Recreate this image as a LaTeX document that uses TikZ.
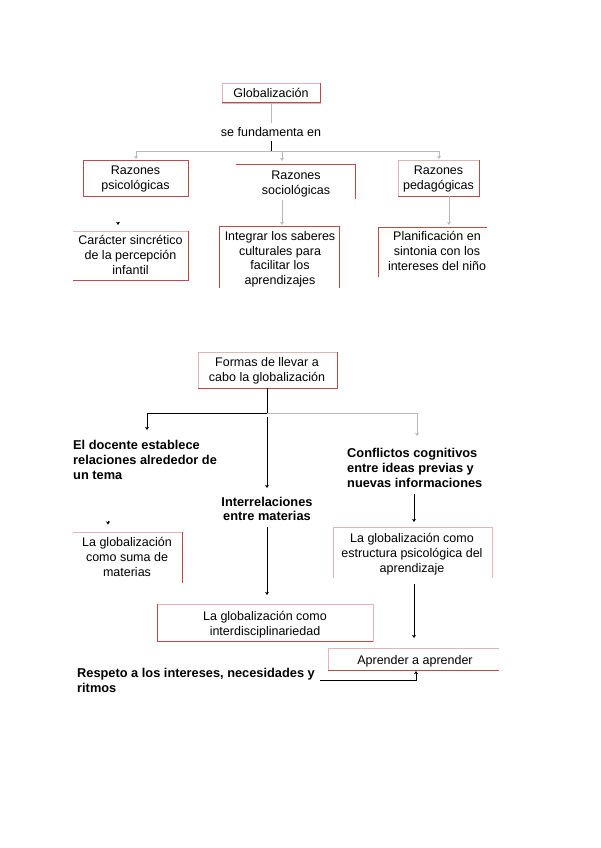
\documentclass[tikz,border=0pt]{standalone}
\usepackage{fontspec}
\setmainfont{Liberation Sans}
\usetikzlibrary{arrows.meta}
\definecolor{pinkedge}{RGB}{228,180,184}
\definecolor{rededge}{RGB}{192,72,72}
\definecolor{conngray}{RGB}{185,185,185}
\begin{document}
\begin{tikzpicture}[x=1pt,y=-1pt,
  txt/.style={inner sep=0pt,align=center,anchor=base,font=\fontsize{12.5}{14.7}\selectfont},
  ltxt/.style={inner sep=0pt,align=left,anchor=base west,font=\bfseries\fontsize{12.8}{15}\selectfont},
  btxt/.style={inner sep=0pt,align=center,anchor=base,font=\bfseries\fontsize{12.8}{14.2}\selectfont},
  pinkline/.style={draw=pinkedge,line width=0.6pt},
  redline/.style={draw=rededge,line width=1pt},
  gconn/.style={draw=conngray,line width=0.6pt},
  bconn/.style={draw=black,line width=0.7pt},
  tip/.style={-{Stealth[length=3.2pt,width=4pt]}}
]
\useasboundingbox (0,0) rectangle (600,848);
\fill[white] (0,0) rectangle (600,848);

% ---------------- top section ----------------
\node[txt] (glob) at (271,97.5) {Globalización};
\draw[pinkline] (222,83) rectangle (320,103);
\draw[redline] (320,83) -- (320,103) -- (222,103);

\node[txt] (fund) at (271,136.5) {se fundamenta en};
\coordinate (gA) at (271,103);
\coordinate (gB) at (271,123);
\draw[gconn] (gA) -- (gB);
\coordinate (fA) at (271,141);
\coordinate (fB) at (271,151);
\draw[bconn] (fA) -- (fB);
\coordinate (hL) at (136,151);
\coordinate (hR) at (439,151);
\draw[gconn] (hL) -- (hR);
\coordinate (aL) at (136,159);
\coordinate (aM0) at (282,151);
\coordinate (aM) at (282,161);
\coordinate (aR) at (439,159);
\draw[gconn,tip] (hL) -- (aL);
\draw[gconn,tip] (aM0) -- (aM);
\draw[gconn,tip] (hR) -- (aR);

\node[txt] (psi) at (135.5,189.5) {Razones\\psicológicas};
\draw[pinkline] (83,160) rectangle (188,196);
\draw[redline] (188,160) -- (188,196) -- (83,196);
\draw[draw=rededge,line width=0.6pt] (83,196) -- (83,160) -- (188,160);

\node[txt] (soc) at (296,194) {Razones\\sociológicas};
\draw[redline] (236,164) -- (355,164) -- (355,199);

\node[txt] (ped) at (438.5,189.5) {Razones\\pedagógicas};
\draw[pinkline] (398,160) rectangle (479,196);
\draw[redline] (479,160) -- (479,196) -- (398,196);

\coordinate (sA) at (282,200);
\coordinate (sB) at (282,225);
\draw[gconn,tip] (sA) -- (sB);
\coordinate (pA) at (449,196);
\coordinate (pB) at (449,225);
\draw[gconn,tip] (pA) -- (pB);
\coordinate (cA) at (118,221.5);
\coordinate (cB) at (118,225);
\draw[bconn,tip] (cA) -- (cB);

\node[txt] (car) at (130.5,274) {Carácter sincrético\\de la percepción\\infantil};
\draw[pinkline] (73,231) -- (188,231);
\draw[redline] (188,231) -- (188,280) -- (73,280);

\node[txt] (int) at (280,284.5) {Integrar los saberes\\culturales para\\facilitar los\\aprendizajes};
\draw[redline] (219,288) -- (219,226) -- (339,226) -- (339,288);

\node[txt] (plan) at (437,270) {Planificación en\\sintonia con los\\intereses del niño};
\draw[redline] (378,277) -- (378,227) -- (487,227);

% ---------------- bottom section ----------------
\node[txt] (formas) at (267,381.5) {Formas de llevar a\\cabo la globalización};
\draw[pinkline] (198,352) rectangle (337,388);
\draw[redline] (337,352) -- (337,388) -- (198,388);

\coordinate (fo1) at (267,388);
\coordinate (fo2) at (267,413);
\coordinate (foL) at (147,413);
\coordinate (foR) at (417,413);
\draw[bconn] (fo1) -- (fo2);
\draw[bconn] (foL) -- (fo2);
\draw[gconn] (fo2) -- (foR);
\coordinate (foLa) at (147,430);
\coordinate (foRa) at (417,436);
\draw[bconn,tip] (foL) -- (foLa);
\draw[gconn,tip] (foR) -- (foRa);
\coordinate (mA) at (267,417);
\coordinate (mB) at (267,488);
\draw[bconn,tip] (mA) -- (mB);

\node[ltxt] (doc) at (73,479) {El docente establece\\relaciones alrededor de\\un tema};
\node[ltxt] (conf) at (347,487.5) {Conflictos cognitivos\\entre ideas previas y\\nuevas informaciones};
\node[btxt] (inter) at (267,520.5) {Interrelaciones\\entre materias};

\coordinate (cfA) at (414,494);
\coordinate (cfB) at (414,522);
\draw[bconn,tip] (cfA) -- (cfB);
\coordinate (dA) at (108,521);
\coordinate (dB) at (108,524.5);
\draw[bconn,tip] (dA) -- (dB);

\node[txt] (suma) at (127,576) {La globalización\\como suma de\\materias};
\draw[pinkline] (73,532) -- (182,532);
\draw[redline] (182,532) -- (182,583);

\coordinate (iA) at (267,527);
\coordinate (iB) at (267,595);
\draw[bconn,tip] (iA) -- (iB);

\node[txt] (interd) at (265,635) {La globalización como\\interdisciplinariedad};
\draw[pinkline] (157,604) rectangle (373,641);
\draw[redline] (157,604) -- (157,641) -- (373,641);

\node[txt] (estr) at (412,572) {La globalización como\\estructura psicológica del\\aprendizaje};
\draw[pinkline] (333,578) -- (333,527) -- (492,527) -- (492,578);

\coordinate (eA) at (414,584);
\coordinate (eB) at (414,638);
\draw[bconn,tip] (eA) -- (eB);

\node[txt] (apr) at (415,664.5) {Aprender a aprender};
\draw[pinkline] (499,648) -- (328,648) -- (328,670);
\draw[redline] (328,670) -- (499,670);

\node[ltxt] (resp) at (77,692.5) {Respeto a los intereses, necesidades y\\ritmos};
\coordinate (rA) at (320,680);
\coordinate (rB) at (416,680);
\coordinate (rC) at (416,671);
\draw[bconn,tip] (rA) -- (rB) -- (rC);
\end{tikzpicture}
\end{document}
